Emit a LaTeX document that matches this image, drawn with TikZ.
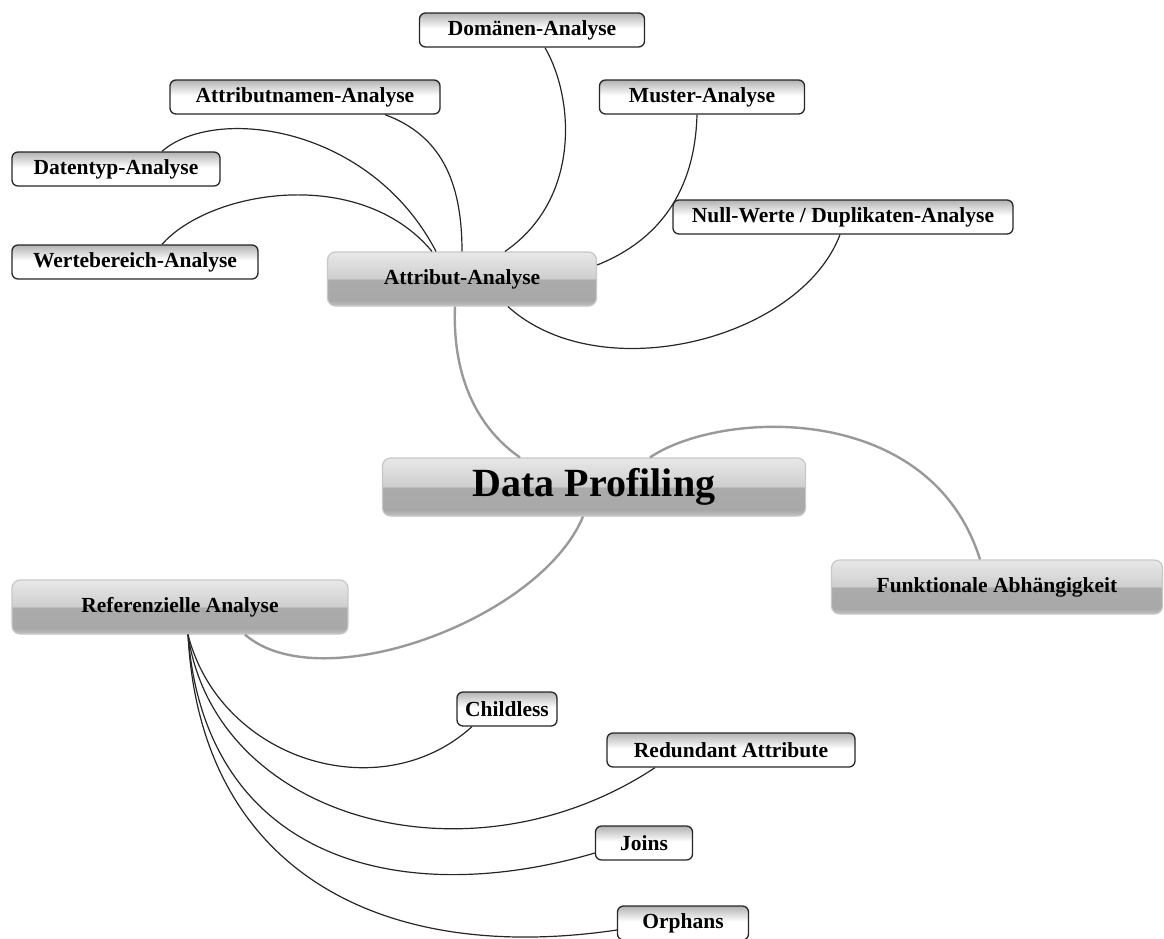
\documentclass[tikz,border=0pt]{standalone}
\usepackage{fontspec}
\setmainfont{Liberation Serif}
\usepackage{tikz}
\usetikzlibrary{shapes,arrows,positioning,calc}

\pgfdeclareverticalshading{leafshade}{100bp}{color(0bp)=(white); color(25bp)=(white); color(52bp)=(white); color(75bp)=(black!30); color(100bp)=(black!30)}
\pgfdeclareverticalshading{glossy}{100bp}{color(0bp)=(black!24); color(25bp)=(black!24); color(30bp)=(black!34); color(49.5bp)=(black!33); color(50.5bp)=(black!19); color(75bp)=(black!9); color(100bp)=(black!9)}

\tikzset{
  leafbox/.style={draw=black!85, line width=1.3, rounded corners=6, shading=leafshade, minimum height=34, inner sep=3, font=\bfseries\fontsize{21.5}{24}\selectfont},
  topicbox/.style={draw=black!22, line width=1.2, rounded corners=8, shading=glossy, minimum height=54, inner sep=3, font=\bfseries\fontsize{21.5}{24}\selectfont},
  rootbox/.style={topicbox, minimum height=58, font=\bfseries\fontsize{40}{44}\selectfont},
  subline/.style={black!85, line width=1.2},
  mainline/.style={black!40, line width=2.4}
}

\begin{document}
\begin{tikzpicture}[x=1pt, y=-1pt, thick]
\useasboundingbox (0,0) rectangle (1164,938);

\node (dom) [leafbox, minimum width=225] at (532,30) {Domänen-Analyse};
\node (attrn) [leafbox, minimum width=270] at (305,97) {Attributnamen-Analyse};
\node (must) [leafbox, minimum width=205] at (702,97) {Muster-Analyse};
\node (dtyp) [leafbox, minimum width=208] at (116,169) {Datentyp-Analyse};
\node (null) [leafbox, minimum width=340] at (843,217) {Null-Werte / Duplikaten-Analyse};
\node (wert) [leafbox, minimum width=246] at (135,262) {Wertebereich-Analyse};
\node (attr) [topicbox, minimum width=269] at (462,279) {Attribut-Analyse};
\node (dp) [rootbox, minimum width=423] at (594,487) {Data Profiling};
\node (ref) [topicbox, minimum width=336] at (180,607) {Referenzielle Analyse};
\node (fa) [topicbox, minimum width=331] at (997,587) {Funktionale Abhängigkeit};
\node (child) [leafbox, minimum width=100] at (507,709) {Childless};
\node (red) [leafbox, minimum width=248] at (731,750) {Redundant Attribute};
\node (joins) [leafbox, minimum width=97] at (644,843) {Joins};
\node (orph) [leafbox, minimum width=131] at (683,923) {Orphans};

\draw[subline] ($(dtyp.north)+(46,0)$) .. controls (215,105) and (370,125) .. ($(attr.north)+(-26,0)$);
\draw[subline] ($(wert.north)+(27,0)$) .. controls (210,190) and (360,165) .. ($(attr.north)+(-30,0)$);
\draw[subline] ($(attrn.south)+(80,0)$) .. controls (440,135) and (462,180) .. (attr.north);
\draw[subline] ($(dom.south)+(13,0)$) .. controls (575,100) and (580,200) .. ($(attr.north)+(43,0)$);
\draw[subline] ($(must.south)+(-5,0)$) .. controls (695,190) and (660,240) .. ($(attr.east)+(0,-14)$);
\draw[subline] ($(null.south)+(-3,0)$) .. controls (800,340) and (600,390) .. ($(attr.south)+(46,0)$);

\draw[mainline] ($(attr.south)+(-7,0)$) .. controls (452,380) and (480,430) .. ($(dp.north)+(-74,0)$);
\draw[mainline] ($(dp.north)+(56,0)$) .. controls (720,410) and (930,400) .. ($(fa.north)+(-17,0)$);
\draw[mainline] ($(dp.south)+(-11,0)$) .. controls (540,620) and (320,700) .. ($(ref.south)+(65,0)$);

\draw[subline] ($(ref.south)+(8,0)$) .. controls (220,760) and (380,810) .. ($(child.south)+(-35,0)$);
\draw[subline] ($(ref.south)+(8,0)$) .. controls (215,820) and (470,890) .. ($(red.south)+(-76,0)$);
\draw[subline] ($(ref.south)+(8,0)$) .. controls (205,860) and (400,910) .. ($(joins.west)+(0,10)$);
\draw[subline] ($(ref.south)+(8,0)$) .. controls (200,870) and (380,965) .. ($(orph.west)+(0,7)$);
\end{tikzpicture}
\end{document}
